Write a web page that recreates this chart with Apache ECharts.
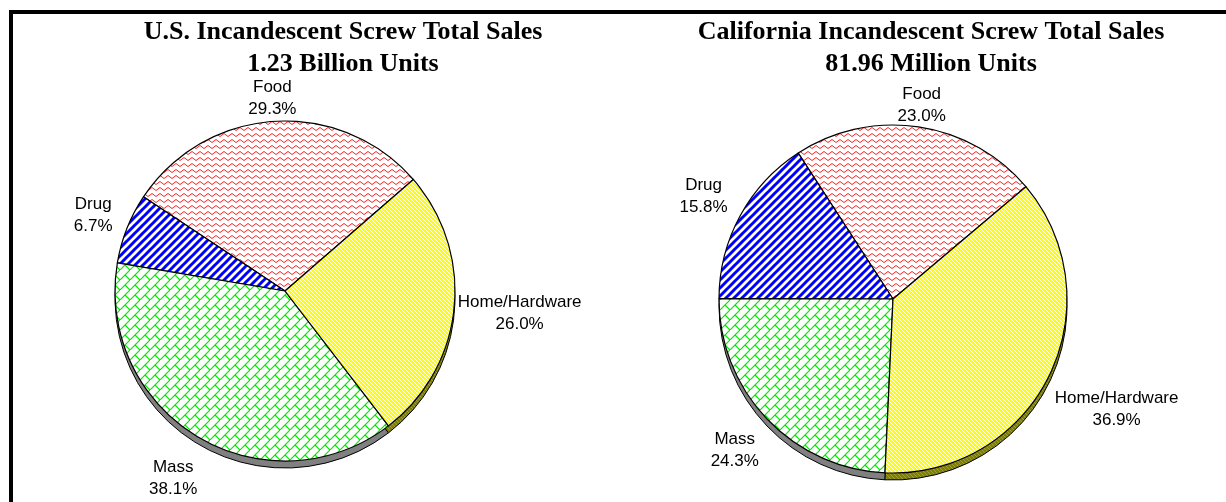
<!DOCTYPE html>
<html>
<head>
<meta charset="utf-8">
<script src="https://cdn.jsdelivr.net/npm/echarts@6/dist/echarts.min.js"></script>
<style>
  html, body { margin: 0; padding: 0; background: #ffffff; }
  #chart { width: 1226px; height: 502px; }
</style>
</head>
<body>
<div id="chart"></div>
<script>
// Channel shares of incandescent screw-base bulb sales (percent)
const categories = ['Food', 'Drug', 'Mass', 'Home/Hardware'];
const usShare = [29.3, 6.7, 38.1, 26.0];
const caShare = [23.0, 15.8, 24.3, 36.9];
const usTitle = ['U.S. Incandescent Screw Total Sales', '1.23 Billion Units'];
const caTitle = ['California Incandescent Screw Total Sales', '81.96 Million Units'];

// Small canvas tiles used as hatch fills
function tile(w, h, draw) {
  const c = document.createElement('canvas');
  c.width = w; c.height = h;
  const g = c.getContext('2d');
  draw(g, w, h);
  return { image: c, repeat: 'repeat' };
}
function diagLines(g, n, dir) {
  // dir 1: '/', dir -1: '\'
  for (let k = -1; k <= 1; k++) {
    g.beginPath();
    if (dir > 0) { g.moveTo(k * n - 1, n + 1); g.lineTo(k * n + n + 1, -1); }
    else { g.moveTo(k * n - 1, -1); g.lineTo(k * n + n + 1, n + 1); }
    g.stroke();
  }
}
const fills = {
  food: tile(8, 6, (g, w, h) => {
    g.fillStyle = '#ffffff'; g.fillRect(0, 0, w, h);
    g.strokeStyle = '#ff2020'; g.lineWidth = 1;
    g.beginPath(); g.moveTo(0, 1.5); g.lineTo(4, 4.5); g.lineTo(8, 1.5); g.stroke();
  }),
  drug: tile(8, 8, (g, w) => {
    g.fillStyle = '#ffffff'; g.fillRect(0, 0, w, w);
    g.strokeStyle = '#0000ff'; g.lineWidth = 3;
    diagLines(g, w, 1);
  }),
  mass: tile(10, 10, (g, w) => {
    g.fillStyle = '#ffffff'; g.fillRect(0, 0, w, w);
    g.strokeStyle = '#00e600'; g.lineWidth = 1.2;
    g.beginPath(); g.moveTo(0, 10); g.lineTo(10, 0); g.stroke();
    g.beginPath(); g.moveTo(5, 5); g.lineTo(10, 10); g.stroke();
  }),
  home: tile(4, 4, (g, w) => {
    g.fillStyle = '#ffff00'; g.fillRect(0, 0, w, w);
    g.strokeStyle = '#ffffff'; g.lineWidth = 1;
    diagLines(g, w, -1);
  }),
  homeSide: tile(4, 4, (g, w) => {
    g.fillStyle = '#808000'; g.fillRect(0, 0, w, w);
    g.strokeStyle = '#a0a040'; g.lineWidth = 1;
    diagLines(g, w, -1);
  })
};
const topFills = [fills.food, fills.drug, fills.mass, fills.home];
const sideFills = ['#800000', '#000080', '#808080', fills.homeSide];

const DEPTH = 7;

function pieSeries(values, cx, cy, r, startAngle, gaps) {
  const base = {
    type: 'pie',
    radius: r,
    startAngle: startAngle,
    clockwise: false,
    avoidLabelOverlap: false,
    animation: false,
    labelLine: { show: false }
  };
  const side = Object.assign({}, base, {
    center: [cx, cy + DEPTH],
    silent: true,
    z: 1,
    label: { show: false },
    itemStyle: { borderColor: '#000000', borderWidth: 1 },
    data: values.map((v, i) => ({ name: categories[i], value: v, itemStyle: { color: sideFills[i] } }))
  });
  const top = Object.assign({}, base, {
    center: [cx, cy],
    z: 2,
    itemStyle: { borderColor: '#000000', borderWidth: 1.2 },
    label: {
      show: true,
      position: 'outside',
      formatter: p => p.name + '\n' + p.value.toFixed(1) + '%',
      fontFamily: '"Liberation Sans", Arial, sans-serif',
      fontSize: 17,
      lineHeight: 22,
      color: '#000000'
    },
    // place each label just outside the rim, centred on the slice's mid angle
    labelLayout: params => {
      const i = params.dataIndex;
      let a = startAngle;
      for (let k = 0; k < i; k++) a += values[k] * 3.6;
      a += values[i] * 1.8;
      const rad = a * Math.PI / 180;
      const ux = Math.cos(rad), uy = -Math.sin(rad);
      const w = params.labelRect.width, h = params.labelRect.height;
      const ext = Math.abs(ux) * w / 2 + Math.abs(uy) * h / 2;
      const d = r + gaps[i] + ext;
      return { x: cx + ux * d, y: cy + uy * d, align: 'center', verticalAlign: 'middle' };
    },
    data: values.map((v, i) => ({ name: categories[i], value: v, itemStyle: { color: topFills[i] } }))
  });
  return [side, top];
}

const titleStyle = {
  fontFamily: '"Liberation Serif", "Times New Roman", serif',
  fontWeight: 'bold',
  fontSize: 26,
  lineHeight: 32,
  color: '#000000'
};

const chart = echarts.init(document.getElementById('chart'), null, { renderer: 'canvas' });
chart.setOption({
  backgroundColor: '#ffffff',
  title: [
    { text: usTitle.join('\n'), left: 343, top: 16, padding: 0, textAlign: 'center', textStyle: titleStyle },
    { text: caTitle.join('\n'), left: 931, top: 16, padding: 0, textAlign: 'center', textStyle: titleStyle }
  ],
  graphic: [{
    type: 'rect',
    shape: { x: 11, y: 12, width: 1240, height: 600 },
    style: { fill: null, stroke: '#000000', lineWidth: 4 },
    silent: true
  }],
  series: [
    ...pieSeries(usShare, 285, 291, 170, 41, [0, 10, 17, 2]),
    ...pieSeries(caShare, 893, 299, 174, 40.2, [-3, 10, 12, 10])
  ]
});
</script>
</body>
</html>
